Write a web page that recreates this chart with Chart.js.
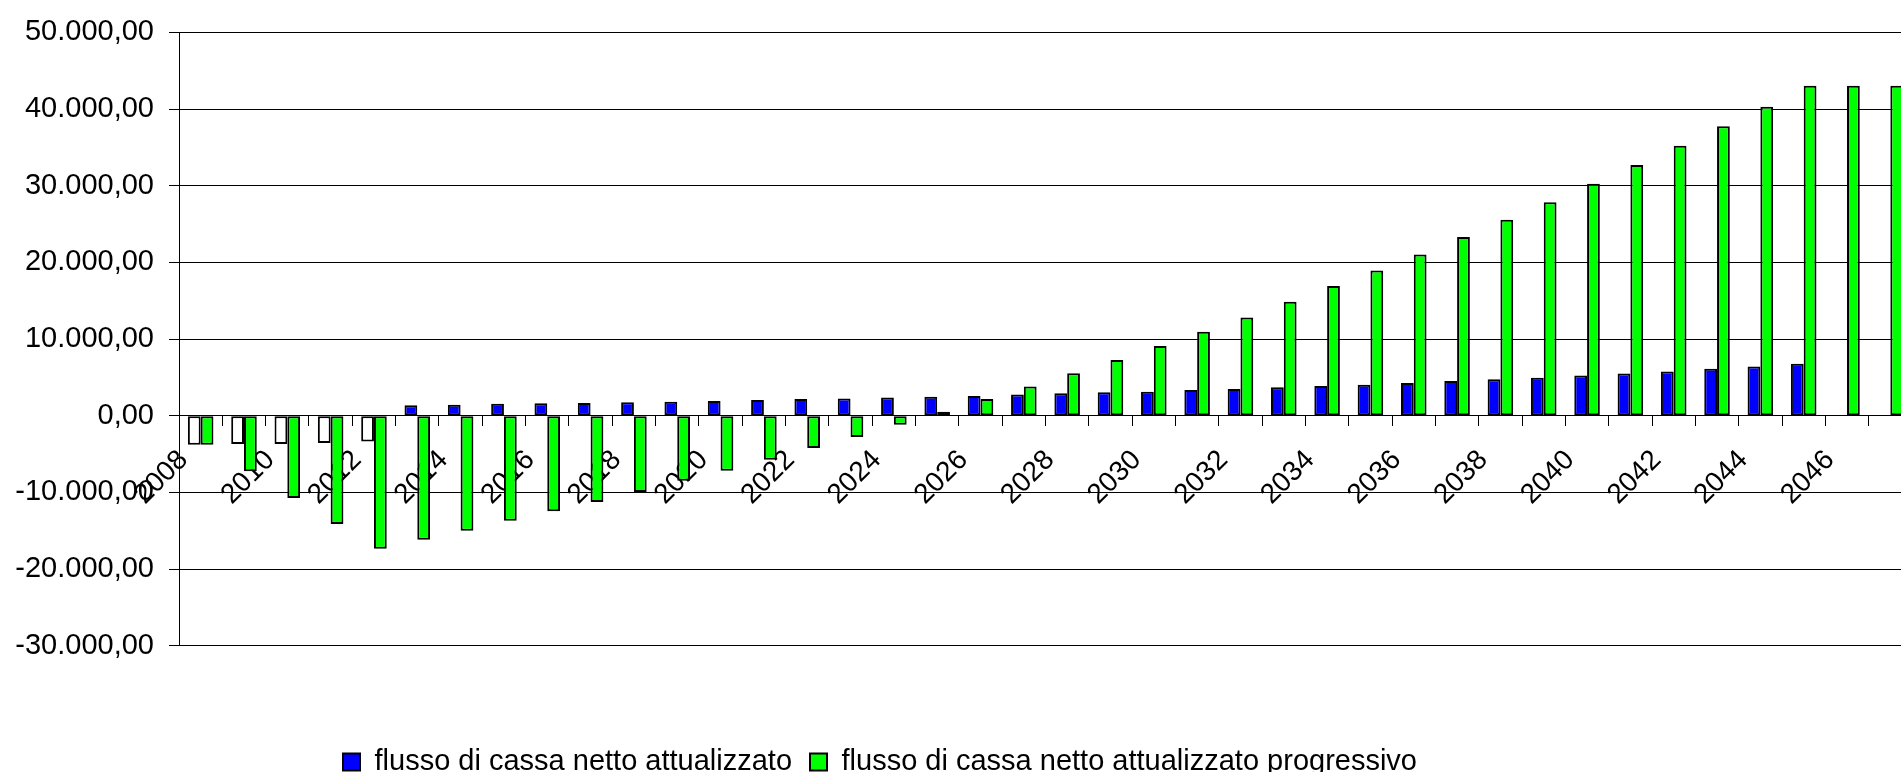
<!DOCTYPE html>
<html>
<head>
<meta charset="utf-8">
<title>Flusso di cassa</title>
<script src="https://cdn.jsdelivr.net/npm/chart.js@4.4.1/dist/chart.umd.min.js"></script>
<style>
  html, body { margin: 0; padding: 0; background: #fff; overflow: hidden; width: 1901px; height: 772px; }
  #wrap { position: absolute; left: -152px; top: 0; width: 2064px; height: 772px; }
</style>
</head>
<body>
<div id="wrap"><canvas id="cashChart"></canvas></div>
<script>
// ====== Dati ======
const years = [
  "2008", "2009", "2010", "2011", "2012", "2013", "2014", "2015", "2016", "2017",
  "2018", "2019", "2020", "2021", "2022", "2023", "2024", "2025", "2026", "2027",
  "2028", "2029", "2030", "2031", "2032", "2033", "2034", "2035", "2036", "2037",
  "2038", "2039", "2040", "2041", "2042", "2043", "2044", "2045", "2046", "2047"
];

// flusso di cassa netto attualizzato
const flussoNetto = [
  -3780, -3700, -3700, -3570, -3350, 1350, 1430, 1560, 1620, 1660,
  1750, 1830, 1910, 2040, 2170, 2260, 2390, 2480, 2560, 2760,
  2920, 3060, 3130, 3350, 3480, 3720, 3870, 4040, 4260, 4520,
  4740, 4960, 5260, 5520, 5780, 6130, 6430, 6780, 0, 0
];

// flusso di cassa netto attualizzato progressivo
const flussoProgressivo = [
  -3780, -7250, -10730, -14120, -17340, -16170, -15000, -13690, -12470, -11250,
  -9950, -8480, -7170, -5740, -4210, -2780, -1170, 520, 2180, 3800,
  5550, 7260, 9090, 10950, 12820, 14870, 16910, 18950, 21040, 23300,
  25560, 27860, 30250, 32690, 35210, 37770, 40300, 43030, 43030, 43030
];

const seriesLabels = ["flusso di cassa netto attualizzato", "flusso di cassa netto attualizzato progressivo"];
const seriesColors = ["#0000ff", "#00ff00"];

const yMin = -30000;
const yMax = 50000;
const yStep = 10000;

// formato italiano: 50.000,00
function formatIt(v) {
  const parts = Math.abs(v).toFixed(2).split(".");
  const intPart = parts[0].replace(/\B(?=(\d{3})+(?!\d))/g, ".");
  return (v < 0 ? "-" : "") + intPart + "," + parts[1];
}

Chart.defaults.font.family = "'Liberation Sans', Arial, sans-serif";
Chart.defaults.font.size = 28;
Chart.defaults.color = "#000";

const ctx = document.getElementById("cashChart");

new Chart(ctx, {
  type: "bar",
  data: {
    labels: years,
    datasets: [
      {
        label: seriesLabels[0],
        data: flussoNetto,
        // Excel "inverti se negativo": barre negative bianche
        backgroundColor: c => (c.raw < 0 ? "#ffffff" : seriesColors[0]),
        borderColor: "#000",
        borderWidth: 2,
        borderSkipped: false,
        categoryPercentage: 0.59,
        barPercentage: 1.0,
      },
      {
        label: seriesLabels[1],
        data: flussoProgressivo,
        backgroundColor: seriesColors[1],
        borderColor: "#000",
        borderWidth: 2,
        borderSkipped: false,
        categoryPercentage: 0.59,
        barPercentage: 1.0,
      },
    ],
  },
  options: {
    responsive: true,
    maintainAspectRatio: false,
    animation: false,
    layout: { padding: { top: 25, left: 0, right: 0, bottom: -14.5 } },
    plugins: {
      tooltip: { enabled: false },
      legend: {
        position: "bottom",
        align: "center",
        labels: {
          boxWidth: 17,
          boxHeight: 17,
          padding: 18,
          color: "#000",
          font: { size: 29 },
          generateLabels: chart =>
            Chart.defaults.plugins.legend.labels.generateLabels(chart).map((l, i) => ({
              ...l,
              fillStyle: seriesColors[i],
              strokeStyle: "#000",
              lineWidth: 2,
            })),
        },
      },
    },
    scales: {
      x: {
        position: { y: 0 },
        offset: true,
        grid: { drawOnChartArea: false, drawTicks: true, tickLength: 10, color: "#000", offset: true },
        border: { color: "#000", width: 1 },
        ticks: {
          autoSkip: false,
          minRotation: 45,
          maxRotation: 45,
          padding: 18,
          labelOffset: -17,
          color: "#000",
          font: { size: 28 },
          callback: (v, i) => (i % 2 === 0 ? years[i] : ""),
        },
        afterFit: s => { s.paddingLeft = 0; s.paddingRight = 0; },
      },
      // spazio vuoto tra grafico e legenda
      x2: {
        type: "category",
        position: "bottom",
        grid: { display: false },
        border: { display: false },
        ticks: { display: false },
        afterFit: s => { s.height = 83.8; s.paddingLeft = 0; s.paddingRight = 0; },
      },
      y: {
        min: yMin,
        max: yMax,
        ticks: {
          stepSize: yStep,
          padding: 15,
          color: "#000",
          font: { size: 29 },
          callback: v => formatIt(v),
        },
        grid: { color: "#000", lineWidth: 1, drawTicks: true, tickLength: 10 },
        border: { color: "#000", width: 1 },
        afterFit: s => { s.width = 331; },
      },
    },
  },
});
</script>
</body>
</html>
